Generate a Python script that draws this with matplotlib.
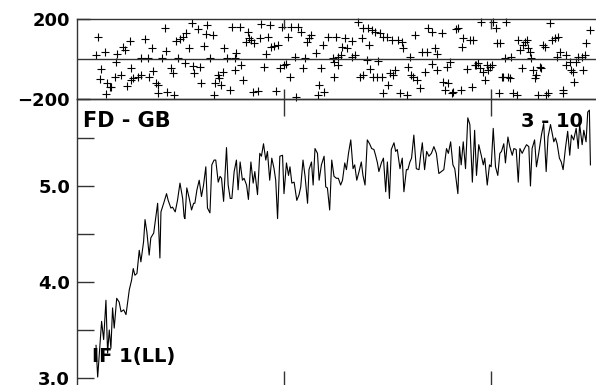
import matplotlib
matplotlib.use("Agg")
import matplotlib.pyplot as plt
from matplotlib.ticker import FixedLocator

# 위쪽 패널: 잔차 산점도 (x, 값)
resid_x = [
    10.1, 9.3, 13.4, 19.5, 22.2, 23.0, 25.4, 32.7, 36.2, 42.7, 43.1, 11.7, 11.0, 14.6, 15.8,
    16.6, 14.2, 18.2, 21.1, 19.0, 26.2, 25.9, 24.3, 27.1, 29.5, 30.8, 31.1, 34.3, 34.8, 36.7,
    38.3, 39.1, 39.1, 41.1, 43.6, 46.9, 45.6, 46.4, 48.0, 48.8, 49.6, 51.2, 52.0, 52.8, 54.4,
    55.6, 56.0, 58.5, 59.3, 56.8, 60.1, 61.4, 62.5, 63.0, 64.1, 65.7, 66.5, 66.2, 68.1, 68.9,
    69.7, 70.5, 71.3, 72.6, 74.2, 74.9, 76.2, 76.5, 77.0, 78.6, 79.4, 80.2, 82.6, 81.8, 83.4,
    84.2, 85.0, 87.4, 85.8, 88.3, 89.1, 90.3, 91.5, 92.3, 93.1, 93.9, 95.5, 96.3, 97.1, 98.4,
    99.0, 100.0, 101.1, 101.9, 103.2, 103.5, 105.2, 106.0, 106.8, 108.1, 109.2, 110.3, 111.3,
    112.4, 113.2, 115.6, 116.4, 117.2, 118.0, 118.8, 119.6, 121.3, 123.7, 124.5, 124.5, 125.3,
    126.4, 126.4, 128.0, 127.5, 129.6, 130.4, 132.8, 132.8, 134.5, 136.1, 136.9, 138.5, 137.7,
    138.5, 140.1, 140.9, 141.4, 141.7, 142.5, 144.1, 143.3, 144.9, 145.7, 146.5, 147.3, 148.1,
    148.1, 149.8, 150.6, 151.4, 152.2, 153.0, 153.8, 155.4, 157.0, 156.2, 157.8, 159.4, 160.2,
    161.0, 161.4, 162.6, 163.4, 164.2, 165.9, 166.7, 168.3, 169.1, 169.9, 171.5, 171.5, 173.1,
    173.9, 173.9, 176.3, 177.1, 177.9, 178.7, 179.6, 180.4, 181.2, 182.0, 183.2, 184.4, 185.5,
    186.0, 186.8, 188.4, 190.0, 190.8, 191.6, 192.4, 193.2, 194.0, 194.8, 195.6, 196.5, 197.3,
    198.1, 198.9, 199.7, 200.5, 201.3, 202.6, 202.9, 204.2, 204.5, 205.3, 206.1, 206.9, 207.7,
    208.5, 209.3, 210.1, 210.9, 212.6, 213.4, 215.0, 214.2, 215.8, 216.6, 217.4, 218.2, 219.0,
    219.8, 220.6, 221.4, 222.2, 223.0, 223.8, 224.6, 225.4, 226.2, 227.0, 227.9, 228.7, 229.5,
    231.1, 231.9, 232.7, 233.5, 234.8, 235.1, 236.7, 236.7, 238.3, 239.1, 239.9, 240.3, 241.5,
    242.3, 244.0, 244.8, 245.6, 246.4, 248.0,
]
resid_val = [
    112, 20, 37, 23, 62, 45, 90, 100, 53, 153, 40, -50, -102, -122, -138,
    -138, -175, -88, -80, -13, -47, -105, -135, -97, -88, -80, 3, 3, -88, -60,
    -122, -130, -172, 3, -167, -180, -47, -72, 90, 3, 100, 112, -22, 128, 53,
    178, -33, 150, -38, -72, -122, 67, 123, 170, 7, 120, -122, -180, -80, -97,
    -130, -63, 53, 7, -155, 158, 3, -55, 28, 162, -30, -105, 137, 87, 103,
    95, -163, -160, 78, 103, 173, -38, 23, 112, 170, 62, 67, -160, 70, -47,
    162, -30, -27, 112, -88, 162, 12, -188, 162, 137, -47, 3, 87,
    103, 120, 28, -180, -130, -47, 70, -163, 112, 3, -88, -13, 112,
    12, -30, 62, 20, 107, 57, 90, 12, 20, 183, -88, 157, 103,
    -80, -5, 153, 70, -50, 145, 137, -88, -88, -10, 128, -88, -172,
    112, 112, -130, -72, 95, -80, -55, 95, 87, -172, 53, -180, -38,
    12, -80, -88, 120, -105, -147, 37, -63, 37, 153, -27, 137, 53,
    23, -55, 128, -113, -155, -38, -122, -13, -172, -163, 150, 153, -155,
    62, 103, -50, 95, -138, 95, -30, -30, -22, -47, 187, -63, -105,
    -30, -55, -38, -30, 187, 157, 78, -172, 78, -88, -88, 3, 183,
    -88, -93, 12, -172, -180, 95, -47, 45, 70, 87, 95, 53, 37,
    3, -55, -97, -80, -180, -38, -47, 70, 62, -180, -172, 178, 95,
    103, 12, 112, 37, -172, -155, 20, -30, -13, -55, -63, -113, -13,
    12, 12, -55, 20, 78, 145,
]

# 아래쪽 패널: IF 1(LL) 곡선
curve_x = [
    9.2, 10.0, 10.8, 11.9, 12.9, 14.0, 14.8, 15.6, 16.4, 17.2, 18.0, 19.2, 20.4, 21.3, 22.6,
    23.7, 25.3, 26.4, 27.2, 28.0, 29.0, 30.1, 30.9, 32.2, 32.9, 33.8, 34.9, 35.7, 37.1, 37.7,
    39.0, 40.1, 40.6, 42.2, 43.3, 44.1, 45.4, 46.2, 47.5, 48.6, 49.8, 51.1, 51.8,
    52.2, 53.1, 54.3, 55.4, 56.4, 57.0, 58.0, 59.1, 60.2, 61.2, 62.3, 63.1, 64.3, 65.2, 66.3,
    67.1, 68.3, 69.2, 69.9, 70.9, 72.3, 73.1, 74.1, 74.9, 76.0, 77.1, 77.9, 78.9, 80.0, 80.8,
    82.0, 82.9, 84.1, 85.2, 86.0, 87.3, 88.4, 89.2, 90.2, 91.3, 92.1, 93.2, 94.2, 95.3, 96.1,
    97.0, 98.1,
    99.4, 100.1, 101.3, 102.3, 103.0, 103.9, 105.0, 106.3, 107.4, 108.2, 109.3, 110.3, 111.5,
    112.2, 113.4, 114.2, 115.1, 116.3, 117.1, 118.2, 119.5, 120.3, 121.1, 122.2, 123.2, 124.3,
    125.5, 126.4, 127.5, 128.4, 129.5, 130.3, 131.3, 132.4, 133.5, 134.3, 135.3, 136.4, 137.5,
    138.3, 139.3, 140.4, 141.5, 142.5, 143.6, 144.4,
    145.3, 146.0, 147.2, 148.2, 149.3, 150.1, 151.1, 152.0, 153.3, 154.1, 154.9, 156.2, 157.3,
    158.1, 159.3, 160.0, 161.0, 161.8, 162.9, 164.1, 165.4, 166.2, 167.0, 168.1, 169.1, 170.2,
    171.4, 172.6, 173.8, 175.0, 176.2, 177.4, 178.7, 179.6, 180.7, 181.8, 182.7, 184.2, 185.0,
    185.8, 186.8, 187.9, 189.0, 190.0,
    191.2, 192.3, 193.2, 194.3, 195.5, 196.5, 197.2, 198.4, 199.5, 200.3, 201.3, 202.4, 203.5,
    204.5, 205.3, 206.4, 207.2, 208.4, 209.3, 210.5, 211.3, 212.4, 213.4, 214.2, 215.3, 216.4,
    217.4, 218.5, 219.3, 220.1, 221.3, 222.2, 223.3, 224.6, 225.7, 226.9, 227.8, 229.0, 229.8,
    230.6, 231.4, 232.2, 233.3, 234.2, 235.1, 236.2, 237.3, 238.3, 239.1, 240.2, 241.4, 242.4,
    243.1, 244.3, 245.1, 246.2, 247.0, 247.8, 248.3,
]
curve_y = [
    3.34, 3.01, 3.26, 3.59, 3.40, 3.81, 3.26, 3.50, 3.31, 3.73, 3.52, 3.83, 3.79, 3.69, 3.71,
    3.66, 3.92, 4.02, 4.14, 4.07, 4.09, 4.33, 4.21, 4.42, 4.65, 4.52, 4.28, 4.46, 4.51, 4.61,
    4.82, 4.25, 4.73, 4.84, 4.92, 4.85, 4.77, 4.78, 4.73, 4.85, 5.03, 4.87, 4.68,
    4.66, 4.98, 4.87, 4.75, 4.82, 4.82, 4.96, 5.06, 4.89, 5.01, 5.20, 4.77, 4.72, 5.22, 5.27,
    5.27, 5.04, 5.10, 5.08, 4.84, 5.40, 5.01, 4.87, 4.87, 5.15, 5.27, 4.96, 5.25, 5.06, 5.08,
    5.01, 4.86, 5.25, 5.03, 5.15, 4.91, 5.34, 5.31, 5.44, 5.27, 5.36, 5.06, 5.29, 5.18, 5.06,
    4.66, 5.31,
    5.32, 4.92, 5.24, 5.11, 5.20, 5.03, 5.04, 4.85, 4.91, 4.99, 5.27, 5.10, 4.82,
    5.17, 5.25, 5.01, 5.39, 5.34, 5.06, 5.22, 5.31, 4.99, 4.98, 4.75, 5.27, 5.10,
    5.08, 5.08, 5.01, 5.06, 5.24, 5.17, 5.34, 5.48, 5.18, 5.22, 5.06, 5.15, 5.25,
    5.11, 5.01, 5.48, 5.44, 5.39, 5.38, 5.32,
    5.24, 5.15, 5.24, 5.29, 4.94, 5.25, 4.87, 5.38, 5.45, 5.36, 5.38, 5.18, 5.29,
    4.94, 5.17, 5.17, 5.25, 5.29, 5.53, 5.18, 5.17, 5.32, 5.45, 5.17, 5.36, 5.31,
    5.34, 5.41, 5.34, 5.13, 5.15, 5.17, 5.39, 5.34, 5.46, 5.22, 5.18, 4.92, 5.41,
    5.22, 5.46, 5.18, 5.71, 5.64,
    5.04, 5.58, 5.11, 5.43, 5.32, 5.22, 5.29, 5.01, 5.22, 5.20, 5.60, 5.20, 5.11,
    5.34, 5.36, 5.44, 5.24, 5.51, 5.41, 5.32, 5.39, 5.38, 5.04, 5.39, 5.34, 5.39,
    5.43, 5.41, 5.00, 5.39, 5.48, 5.20, 5.34, 5.53, 5.65, 5.15, 5.51, 5.64, 5.55,
    5.46, 5.50, 5.44, 5.29, 5.25, 5.17, 5.39, 5.57, 5.32, 5.53, 5.48, 5.60, 5.39,
    5.64, 5.43, 5.58, 5.46, 5.77, 5.79, 5.22,
]

x_ticks = [100, 200]
resid_ticks = [-200, 200]
resid_labels = ["\u2212200", "200"]
curve_ticks = [3.0, 4.0, 5.0]
curve_labels = ["3.0", "4.0", "5.0"]
curve_minor = [3.5, 4.5, 5.5]

plt.rcParams["font.family"] = ["DejaVu Sans"]
plt.rcParams["font.weight"] = "bold"

W, H = 596, 385
fig = plt.figure(figsize=(W / 100, H / 100), dpi=100)

spine_c = "#333333"

# 위쪽 패널: 픽셀 77..596, 19..99
ax_top = fig.add_axes([77 / W, (H - 99) / H, (W - 77) / W, 80 / H])
ax_top.scatter(resid_x, resid_val, marker="+", s=26, color="black", linewidths=0.8, clip_on=False)
ax_top.axhline(0, color=spine_c, lw=1.0)
ax_top.set_xlim(0, 251)
ax_top.set_ylim(-200, 200)
ax_top.set_xticks(x_ticks)
ax_top.set_xticklabels([])
ax_top.set_yticks(resid_ticks)
ax_top.set_yticklabels(resid_labels)
ax_top.tick_params(axis="x", direction="in", top=True, bottom=True, length=7, width=1, color=spine_c)
ax_top.tick_params(axis="y", direction="in", length=9, width=1, color=spine_c, labelsize=13, pad=5)

# 아래쪽 패널: 위 경계 99px, 3.0 = 378px, 1단위 = 96px
y_lo, y_hi = 2.9, 5.906
bottom_px = 378 + (3.0 - y_lo) * 96
ax_bot = fig.add_axes([77 / W, (H - bottom_px) / H, (W - 77) / W, (bottom_px - 99) / H])
ax_bot.plot(curve_x, curve_y, color="black", lw=0.8)
ax_bot.set_xlim(0, 251)
ax_bot.set_ylim(y_lo, y_hi)
ax_bot.set_xticks(x_ticks)
ax_bot.set_xticklabels([])
ax_bot.set_yticks(curve_ticks)
ax_bot.set_yticklabels(curve_labels)
ax_bot.yaxis.set_minor_locator(FixedLocator(curve_minor))
ax_bot.tick_params(axis="x", direction="in", top=True, bottom=True, length=12, width=1, color=spine_c)
ax_bot.tick_params(axis="y", which="both", direction="in", length=12, width=1, color=spine_c,
                   labelsize=13, pad=5)

for ax in (ax_top, ax_bot):
    ax.spines["right"].set_visible(False)
    for s in ("left", "top", "bottom"):
        ax.spines[s].set_color(spine_c)
        ax.spines[s].set_linewidth(1.0)
    ax.set_facecolor("none")
    for lab in ax.get_yticklabels():
        lab.set_fontweight("bold")

ax_bot.text(0.012, 0.904, "FD - GB", transform=ax_bot.transAxes, fontsize=15,
            fontweight="bold", va="baseline", ha="left")
ax_bot.text(0.975, 0.904, "3 - 10", transform=ax_bot.transAxes, fontsize=14,
            fontweight="bold", va="baseline", ha="right")
ax_bot.text(0.029, 0.089, "IF 1(LL)", transform=ax_bot.transAxes, fontsize=14,
            fontweight="bold", va="baseline", ha="left")

fig.savefig("out.png", dpi=100)
